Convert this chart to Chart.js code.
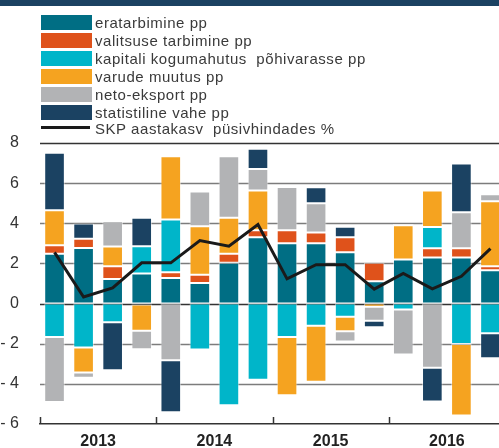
<!DOCTYPE html>
<html>
<head>
<meta charset="utf-8">
<script src="https://cdn.jsdelivr.net/npm/chart.js@4.4.1/dist/chart.umd.min.js"></script>
<style>
  body { margin: 0; width: 499px; height: 448px; overflow: hidden; background: #fff; position: relative; font-family: "Liberation Sans", Arial, sans-serif; }
  #topband { position: absolute; left: 0; top: 0; width: 499px; height: 6px; background: #1b4262; }
  #legend { position: absolute; left: 41px; top: 15px; }
  .row { position: relative; height: 18px; }
  .sw { position: absolute; left: 0; top: 0; width: 51px; height: 15px; }
  .ln { position: absolute; left: 0; top: 3px; width: 49px; height: 3px; background: #1a1a1a; }
  .tx { position: absolute; left: 54px; top: -1px; font-size: 15px; letter-spacing: 0.55px; color: #3a3a3a; white-space: pre; }
  canvas { position: absolute; left: 0; top: 0; }
</style>
</head>
<body>
<div id="topband"></div>
<canvas id="myChart" width="510" height="448"></canvas>
<div id="legend"></div>
<script>
const quarters = ["2013 I","2013 II","2013 III","2013 IV","2014 I","2014 II","2014 III","2014 IV",
  "2015 I","2015 II","2015 III","2015 IV","2016 I","2016 II","2016 III","2016 IV"];
const years = ["2013", "2014", "2015", "2016"];

const eratarbimine = [2.48, 2.77, 1.23, 1.50, 1.28, 1.03, 2.03, 3.30, 3.00, 3.00, 2.56, 1.11, 2.19, 2.29, 2.29, 1.66];
const valitsus = [0.42, 0.46, 0.63, -0.05, 0.28, 0.41, 0.45, 0.35, 0.65, 0.54, 0.75, 0.92, 0, 0.47, 0.47, 0.20];
const kapital = [-1.66, -2.19, -0.93, 1.36, 2.63, -2.29, -5.07, -3.79, -1.66, -1.11, -0.66, 0, -0.30, 1.06, -2.01, -1.48];
const varud = [1.75, -1.25, 0.98, -1.31, 3.15, 2.41, 1.79, 1.98, -2.91, -2.78, -0.72, -0.16, 1.71, 1.81, -3.57, 3.24];
const netoeksport = [-3.24, -0.26, 1.26, -0.92, -2.82, 1.73, 3.07, 1.08, 2.16, 1.46, -0.51, -0.69, -2.24, -3.20, 1.79, 0.35];
const statVahe = [2.86, 0.76, -2.39, 1.41, -2.59, -0.07, 0.08, 1.00, -0.05, 0.80, 0.52, -0.33, 0.07, -1.68, 2.43, -1.24];
const skp = [2.55, 0.33, 0.78, 2.03, 2.03, 3.14, 2.86, 3.94, 1.23, 1.94, 1.94, 0.72, 1.50, 0.73, 1.36, 2.74];

const yMin = -6, yMax = 8, yStep = 2;

const barSeries = [
  { label: "eratarbimine pp", data: eratarbimine, color: "#006e84" },
  { label: "valitsuse tarbimine pp", data: valitsus, color: "#df521b" },
  { label: "kapitali kogumahutus  põhivarasse pp", data: kapital, color: "#00b5c9" },
  { label: "varude muutus pp", data: varud, color: "#f5a320" },
  { label: "neto-eksport pp", data: netoeksport, color: "#b2b3b5" },
  { label: "statistiline vahe pp", data: statVahe, color: "#1b4262" }
];
const lineLabel = "SKP aastakasv  püsivhindades %";

// legend
const legend = document.getElementById("legend");
barSeries.forEach(s => {
  const row = document.createElement("div");
  row.className = "row";
  row.innerHTML = '<div class="sw" style="background:' + s.color + '"></div><div class="tx"></div>';
  row.querySelector(".tx").innerText = s.label;
  legend.append(row);
});
const lrow = document.createElement("div");
lrow.className = "row";
lrow.innerHTML = '<div class="ln"></div><div class="tx" style="top:-3px"></div>';
lrow.querySelector(".tx").innerText = lineLabel;
legend.append(lrow);

const datasets = barSeries.map(s => ({
  type: "bar",
  label: s.label,
  data: s.data,
  backgroundColor: s.color,
  borderColor: "rgba(255,255,255,0.5)",
  borderWidth: 1,
  borderSkipped: false,
  stack: "gdp",
  order: 1,
  categoryPercentage: 1,
  barPercentage: 0.71
}));
datasets.push({
  type: "line",
  label: lineLabel,
  data: skp,
  borderColor: "#1a1a1a",
  borderWidth: 3,
  pointRadius: 0,
  tension: 0,
  fill: false,
  stack: "skp",
  order: 0
});

// horizontal grid lines behind the bars
const gridLines = {
  id: "gridLines",
  beforeDatasetsDraw(chart) {
    const y = chart.scales.y;
    const area = chart.chartArea;
    const c = chart.ctx;
    c.save();
    c.lineWidth = 1.3;
    y.ticks.forEach(t => {
      if (t.value === yMin) return;
      const py = Math.round(y.getPixelForValue(t.value)) + 0.5;
      c.strokeStyle = (t.value === 0 || t.value === yMax) ? "#333" : "#7c7c7c";
      c.beginPath();
      c.moveTo(area.left, py);
      c.lineTo(area.right, py);
      c.stroke();
    });
    c.restore();
  }
};

// year tick marks pointing up from the axis
const yearTicks = {
  id: "yearTicks",
  afterDraw(chart) {
    const x = chart.scales.x;
    const bottom = chart.chartArea.bottom;
    const c = chart.ctx;
    c.save();
    c.strokeStyle = "#333";
    c.lineWidth = 1.5;
    for (let i = 0; i <= years.length; i++) {
      const px = Math.round(x.getPixelForValue(i * 4 - 0.5)) + 0.5;
      c.beginPath();
      c.moveTo(px, bottom);
      c.lineTo(px, bottom - 7);
      c.stroke();
    }
    c.restore();
  }
};

const ctx = document.getElementById("myChart").getContext("2d");
new Chart(ctx, {
  type: "bar",
  data: { labels: quarters, datasets: datasets },
  plugins: [gridLines, yearTicks],
  options: {
    responsive: false,
    animation: false,
    layout: { padding: { top: 143, right: 5, left: 0, bottom: 0 } },
    plugins: { legend: { display: false }, tooltip: { enabled: false } },
    scales: {
      x: { display: false, stacked: true, offset: true },
      x2: {
        type: "category",
        labels: years,
        position: "bottom",
        offset: true,
        grid: { display: false },
        border: { display: true, color: "#333", width: 1.5 },
        ticks: { padding: 0, color: "#222", font: { family: "Liberation Sans", size: 16, weight: "bold" } },
        afterFit(scale) { scale.height = 24; }
      },
      y: {
        stacked: true,
        min: yMin,
        max: yMax,
        border: { display: false },
        grid: { display: false },
        ticks: {
          stepSize: yStep,
          padding: 13,
          color: "#333",
          font: { family: "Liberation Sans", size: 16 },
          callback: v => v < 0 ? "- " + Math.abs(v) : String(v)
        },
        afterFit(scale) { scale.width = 40; }
      }
    }
  }
});
</script>
</body>
</html>
